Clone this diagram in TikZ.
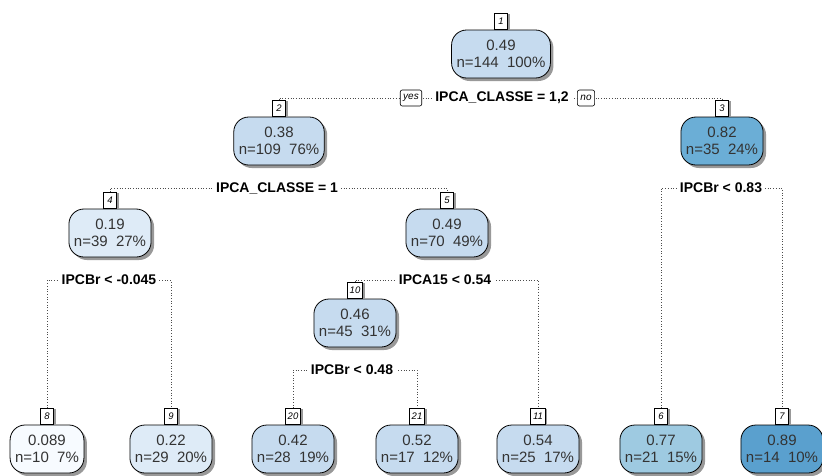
\documentclass[tikz,border=0pt]{standalone}
\usepackage{fontspec}
\setmainfont{Liberation Sans}
\usetikzlibrary{shadows,backgrounds}
\definecolor{bA}{HTML}{F7FBFF}
\definecolor{bB}{HTML}{DEEBF7}
\definecolor{bC}{HTML}{C6DBEF}
\definecolor{bD}{HTML}{9ECAE1}
\definecolor{bE}{HTML}{6BAED6}
\definecolor{bF}{HTML}{5AA0CE}
\begin{document}
\begin{tikzpicture}[x=1pt,y=-1pt,
  leaf/.style={draw=black, line width=0.8pt, rounded corners=15pt,
    minimum height=48pt, inner xsep=5pt, align=center,
    font=\fontsize{15}{17.5}\selectfont, text=black!80,
    drop shadow={shadow xshift=3pt, shadow yshift=-3pt, fill=black!40, opacity=1}},
  numbox/.style={draw=black, fill=white, line width=0.6pt, inner xsep=2.5pt, inner ysep=0pt,
    minimum width=13pt, minimum height=16pt, anchor=south,
    font=\fontsize{9.5}{9.5}\selectfont\itshape,
    drop shadow={shadow xshift=2pt, shadow yshift=-1pt, fill=black!40, opacity=1}},
  split/.style={fill=white, inner xsep=3pt, inner ysep=1pt, font=\fontsize{14}{14}\selectfont\bfseries},
  yn/.style={draw=black, fill=white, line width=0.6pt, rounded corners=2pt, inner xsep=3pt,
    inner ysep=0pt, minimum height=16pt, font=\fontsize{10}{10}\selectfont\itshape},
  conn/.style={dotted, line width=0.7pt, black!70}]
\useasboundingbox (0,0) rectangle (822,475);

% internal nodes
\node[leaf, fill=bC] (n1) at (501,54) {0.49\\n=144~~100\%};
\node[leaf, fill=bC] (n2) at (279,141) {0.38\\n=109~~76\%};
\node[leaf, fill=bE] (n3) at (722,141) {0.82\\n=35~~24\%};
\node[leaf, fill=bB] (n4) at (110,233) {0.19\\n=39~~27\%};
\node[leaf, fill=bC] (n5) at (447,233) {0.49\\n=70~~49\%};
\node[leaf, fill=bC] (n10) at (355,323) {0.46\\n=45~~31\%};

% leaves
\node[leaf, fill=bA] (n8) at (47,449) {0.089\\n=10~~7\%};
\node[leaf, fill=bB] (n9) at (171,449) {0.22\\n=29~~20\%};
\node[leaf, fill=bC] (n20) at (293,449) {0.42\\n=28~~19\%};
\node[leaf, fill=bC] (n21) at (417,449) {0.52\\n=17~~12\%};
\node[leaf, fill=bC] (n11) at (538,449) {0.54\\n=25~~17\%};
\node[leaf, fill=bD] (n6) at (661,449) {0.77\\n=21~~15\%};
\node[leaf, fill=bF] (n7) at (782,449) {0.89\\n=14~~10\%};

% node number tags
\node[numbox] (l1) at (n1.north) {1};
\node[numbox] (l2) at (n2.north) {2};
\node[numbox] (l3) at (n3.north) {3};
\node[numbox] (l4) at (n4.north) {4};
\node[numbox] (l5) at (n5.north) {5};
\node[numbox] (l10) at (n10.north) {10};
\node[numbox] (l8) at (n8.north) {8};
\node[numbox] (l9) at (n9.north) {9};
\node[numbox] (l20) at (n20.north) {20};
\node[numbox] (l21) at (n21.north) {21};
\node[numbox] (l11) at (n11.north) {11};
\node[numbox] (l6) at (n6.north) {6};
\node[numbox] (l7) at (n7.north) {7};

% split labels
\node[split] (s1) at (502,98) {IPCA\_CLASSE = 1,2};
\node[yn] (yes) at (411,98) {yes};
\node[yn] (no) at (586,98) {no};
\node[split] (s2) at (277,188) {IPCA\_CLASSE = 1};
\node[split] (s3) at (721,188) {IPCBr < 0.83};
\node[split] (s4) at (109,280) {IPCBr < -0.045};
\node[split] (s5) at (445,280) {IPCA15 < 0.54};
\node[split] (s6) at (352,370) {IPCBr < 0.48};

% branches
\begin{scope}[on background layer]
\draw[conn] (l2.north) |- (s1.center) -| (l3.north);
\draw[conn] (l4.north) |- (s2.center) -| (l5.north);
\draw[conn] (l6.north) |- (s3.center) -| (l7.north);
\draw[conn] (l8.north) |- (s4.center) -| (l9.north);
\draw[conn] (l10.north) |- (s5.center) -| (l11.north);
\draw[conn] (l20.north) |- (s6.center) -| (l21.north);
\end{scope}
\end{tikzpicture}
\end{document}
